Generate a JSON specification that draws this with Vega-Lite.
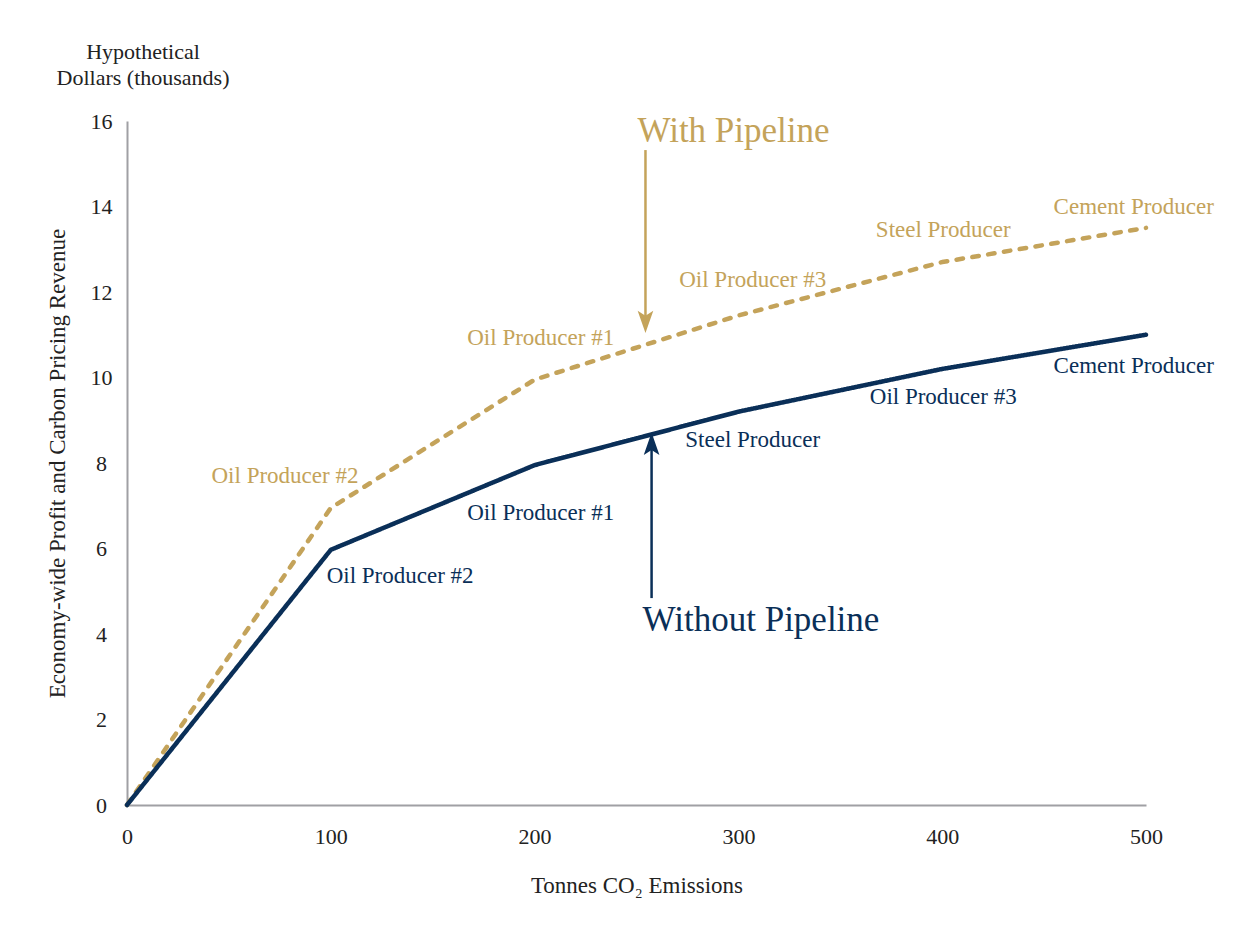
{
  "$schema": "https://vega.github.io/schema/vega-lite/v6.json",
  "width": 1019,
  "height": 684,
  "autosize": {"type": "none"},
  "padding": {"left": 127, "top": 121, "right": 102, "bottom": 127},
  "background": "white",
  "title": {
    "text": ["Hypothetical", "Dollars (thousands)"],
    "anchor": "start",
    "frame": "group",
    "align": "center",
    "dx": 16,
    "offset": 20,
    "font": "Liberation Serif",
    "fontSize": 22,
    "fontWeight": "normal",
    "color": "#222222",
    "lineHeight": 26
  },
  "datasets": {
    "lines": [
      {"x": 0, "y": 0, "series": "With Pipeline"},
      {"x": 100, "y": 6.95, "series": "With Pipeline"},
      {"x": 200, "y": 9.95, "series": "With Pipeline"},
      {"x": 300, "y": 11.45, "series": "With Pipeline"},
      {"x": 400, "y": 12.7, "series": "With Pipeline"},
      {"x": 500, "y": 13.5, "series": "With Pipeline"},
      {"x": 0, "y": 0, "series": "Without Pipeline"},
      {"x": 100, "y": 5.97, "series": "Without Pipeline"},
      {"x": 200, "y": 7.95, "series": "Without Pipeline"},
      {"x": 300, "y": 9.2, "series": "Without Pipeline"},
      {"x": 400, "y": 10.2, "series": "Without Pipeline"},
      {"x": 500, "y": 11.0, "series": "Without Pipeline"}
    ],
    "labels": [
      {"x": 77.5, "y": 7.7, "text": "Oil Producer #2", "series": "With Pipeline"},
      {"x": 203, "y": 10.92, "text": "Oil Producer #1", "series": "With Pipeline"},
      {"x": 307, "y": 12.28, "text": "Oil Producer #3", "series": "With Pipeline"},
      {"x": 400.5, "y": 13.45, "text": "Steel Producer", "series": "With Pipeline"},
      {"x": 494, "y": 14.0, "text": "Cement Producer", "series": "With Pipeline"},
      {"x": 134, "y": 5.36, "text": "Oil Producer #2", "series": "Without Pipeline"},
      {"x": 203, "y": 6.83, "text": "Oil Producer #1", "series": "Without Pipeline"},
      {"x": 307, "y": 8.54, "text": "Steel Producer", "series": "Without Pipeline"},
      {"x": 400.5, "y": 9.54, "text": "Oil Producer #3", "series": "Without Pipeline"},
      {"x": 494, "y": 10.27, "text": "Cement Producer", "series": "Without Pipeline"}
    ],
    "big": [
      {"x": 250.5, "y": 15.77, "text": "With Pipeline", "series": "With Pipeline"},
      {"x": 253, "y": 4.33, "text": "Without Pipeline", "series": "Without Pipeline"}
    ],
    "arrows": [
      {"x": 254.4, "y": 15.32, "y2": 11.35, "series": "With Pipeline", "dir": "down", "hy": 11.3},
      {"x": 257.4, "y": 4.84, "y2": 8.4, "series": "Without Pipeline", "dir": "up", "hy": 8.45}
    ]
  },
  "layer": [
    {
      "data": {"name": "lines"},
      "mark": {"type": "line", "strokeWidth": 4.5, "strokeCap": "round", "strokeJoin": "round"},
      "encoding": {
        "x": {
          "field": "x", "type": "quantitative",
          "scale": {"domain": [0, 500], "nice": false},
          "axis": {
            "title": "Tonnes CO₂ Emissions",
            "values": [0, 100, 200, 300, 400, 500],
            "grid": false, "ticks": false, "tickSize": 0,
            "labelFlush": false,
            "labelPadding": 21,
            "titlePadding": 27
          }
        },
        "y": {
          "field": "y", "type": "quantitative",
          "scale": {"domain": [0, 16], "nice": false},
          "axis": {
            "title": "Economy-wide Profit and Carbon Pricing Revenue",
            "values": [0, 2, 4, 6, 8, 10, 12, 14, 16],
            "grid": false, "ticks": false, "tickSize": 0,
            "labelAlign": "center",
            "labelFlush": false,
            "labelPadding": 26,
            "titlePadding": 21
          }
        },
        "color": {
          "field": "series", "type": "nominal",
          "scale": {"domain": ["With Pipeline", "Without Pipeline"], "range": ["#c4a35a", "#0a2f58"]},
          "legend": null
        },
        "strokeDash": {
          "field": "series", "type": "nominal",
          "scale": {"domain": ["With Pipeline", "Without Pipeline"], "range": [[6.5, 9.5], [1, 0]]},
          "legend": null
        },
        "order": {"field": "x", "type": "quantitative"}
      }
    },
    {
      "data": {"name": "arrows"},
      "mark": {"type": "rule", "strokeWidth": 2.5},
      "encoding": {
        "x": {"field": "x", "type": "quantitative"},
        "y": {"field": "y", "type": "quantitative"},
        "y2": {"field": "y2"},
        "color": {"field": "series", "type": "nominal", "legend": null}
      }
    },
    {
      "data": {"name": "arrows"},
      "mark": {"type": "point", "filled": true, "opacity": 1, "size": 500, "strokeWidth": 0},
      "encoding": {
        "x": {"field": "x", "type": "quantitative"},
        "y": {"field": "hy", "type": "quantitative"},
        "color": {"field": "series", "type": "nominal", "legend": null},
        "shape": {
          "field": "dir", "type": "nominal",
          "scale": {"domain": ["down", "up"], "range": ["M-0.7,-1L0,1L0.7,-1L0,-0.55Z", "M-0.7,1L0,-1L0.7,1L0,0.55Z"]},
          "legend": null
        }
      }
    },
    {
      "data": {"name": "labels"},
      "mark": {"type": "text", "font": "Liberation Serif", "fontSize": 23, "align": "center", "baseline": "middle"},
      "encoding": {
        "x": {"field": "x", "type": "quantitative"},
        "y": {"field": "y", "type": "quantitative"},
        "text": {"field": "text"},
        "color": {"field": "series", "type": "nominal", "legend": null}
      }
    },
    {
      "data": {"name": "big"},
      "mark": {"type": "text", "font": "Liberation Serif", "fontSize": 35, "align": "left", "baseline": "middle"},
      "encoding": {
        "x": {"field": "x", "type": "quantitative"},
        "y": {"field": "y", "type": "quantitative"},
        "text": {"field": "text"},
        "color": {"field": "series", "type": "nominal", "legend": null}
      }
    }
  ],
  "config": {
    "view": {"stroke": null},
    "axis": {
      "domainColor": "#a0a0a4",
      "domainWidth": 2,
      "labelFont": "Liberation Serif",
      "labelFontSize": 22,
      "labelColor": "#222222",
      "titleFont": "Liberation Serif",
      "titleFontSize": 23,
      "titleFontWeight": "normal",
      "titleColor": "#222222"
    }
  }
}
